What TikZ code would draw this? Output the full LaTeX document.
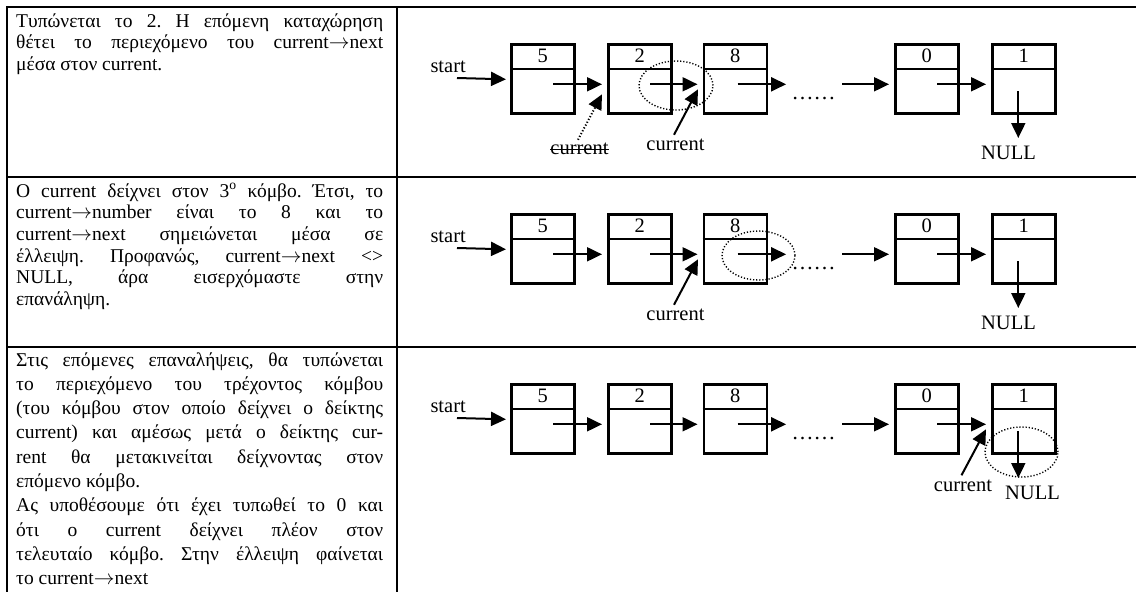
\documentclass[tikz,border=0pt]{standalone}
\usepackage{fontspec}
\setmainfont{Liberation Serif}
\usetikzlibrary{arrows.meta,shapes.geometric}
\tikzset{
  tbl/.style={line width=2.6pt},
  listbox/.style={draw, line width=2.6pt, minimum width=63pt, minimum height=69pt, inner sep=0pt, anchor=north west},
  ptr/.style={line width=2pt, -{Triangle[length=15pt,width=14pt]}},
  dptr/.style={ptr, dash pattern=on 1.2pt off 2pt},
  lbl/.style={font=\fontsize{20.5}{24}\selectfont, inner sep=0pt},
  oval/.style={draw, ellipse, line width=1.4pt, dash pattern=on 1.2pt off 1.9pt, inner sep=0pt},
  body/.style={inner sep=0pt, anchor=base west}
}
\newcommand\arr{\(\rightarrow\)}
\newcommand\jl[1]{\makebox[367pt][s]{#1}\par}
\newcommand\bodytext[2]{\parbox[t]{367pt}{\fontsize{19.5}{#1}\selectfont\frenchspacing\parindent=0pt #2}}
\newcommand\listrow[2]{%
\begin{scope}[shift={(0,#1)}]
  \node[listbox] (#2a) at (510,43) {};
  \node[listbox] (#2b) at (607,43) {};
  \node[listbox] (#2c) at (702.5,43) {};
  \node[listbox] (#2d) at (894,43) {};
  \node[listbox] (#2e) at (991,43) {};
  \foreach \n/\v in {a/5,b/2,c/8,d/0,e/1}{
    \draw[line width=2.6pt] ([yshift=-26pt]#2\n.north west) -- ([yshift=-26pt]#2\n.north east);
    \node[lbl] at ([yshift=-13pt]#2\n.north) {\v};
  }
  \node[lbl, anchor=base east] (#2st) at (466,72) {start};
  \draw[ptr] ([xshift=-9pt,yshift=-6pt]#2st.base east) -- ([xshift=-4pt,yshift=-0.5pt]#2a.west);
  \draw[ptr] ([xshift=43pt,yshift=-5.5pt]#2a.west) -- ([xshift=-5pt,yshift=-5.5pt]#2b.west);
  \draw[ptr] ([xshift=43pt,yshift=-5.5pt]#2b.west) -- ([xshift=-5pt,yshift=-5.5pt]#2c.west);
  \draw[ptr] ([xshift=35pt,yshift=-5.5pt]#2c.west) -- ([xshift=18pt,yshift=-5.5pt]#2c.east);
  \node[inner sep=0pt, anchor=base, font=\fontsize{22}{24}\selectfont] (#2dots) at (813.5,99) {……};
  \draw[ptr] ([xshift=-52pt,yshift=-5.5pt]#2d.west) -- ([xshift=-5pt,yshift=-5.5pt]#2d.west);
  \draw[ptr] ([xshift=43pt,yshift=-5.5pt]#2d.west) -- ([xshift=-5pt,yshift=-5.5pt]#2e.west);
  \coordinate (#2nt) at ([xshift=-5.5pt,yshift=-95pt]#2e.north);
  \draw[ptr] ([xshift=-5.5pt,yshift=-48pt]#2e.north) -- (#2nt);
\end{scope}}
\begin{document}
\begin{tikzpicture}[x=1pt,y=-1pt]
\useasboundingbox (0,0) rectangle (1136,592);
% table
\draw[tbl] (6,7) -- (1136,7);
\draw[tbl] (6,177) -- (1136,177);
\draw[tbl] (6,347) -- (1136,347);
\draw[tbl] (7,6) -- (7,592);
\draw[tbl] (397,6) -- (397,592);
% texts
\node[body] (t1) at (16,27) {\bodytext{21.7}{%
\jl{Τυπώνεται το 2. Η επόμενη καταχώρηση}
\jl{θέτει το περιεχόμενο του current\arr next}
μέσα στον current.}};
\node[body] (t2) at (16,197) {\bodytext{21.7}{%
\jl{Ο current δείχνει στον 3\textsuperscript{ο} κόμβο. Έτσι, το}
\jl{current\arr number είναι το 8 και το}
\jl{current\arr next σημειώνεται μέσα σε}
\jl{έλλειψη. Προφανώς, current\arr next <>}
\jl{NULL, άρα εισερχόμαστε στην}
επανάληψη.}};
\node[body] (t3) at (16,366) {\bodytext{24.3}{%
\jl{Στις επόμενες επαναλήψεις, θα τυπώνεται}
\jl{το περιεχόμενο του τρέχοντος κόμβου}
\jl{(του κόμβου στον οποίο δείχνει ο δείκτης}
\jl{current) και αμέσως μετά ο δείκτης cur-}
\jl{rent θα μετακινείται δείχνοντας στον}
επόμενο κόμβο.\par
\jl{Ας υποθέσουμε ότι έχει τυπωθεί το 0 και}
\jl{ότι ο current δείχνει πλέον στον}
\jl{τελευταίο κόμβο. Στην έλλειψη φαίνεται}
το current\arr next}};
% lists
\listrow{0}{p}
\listrow{170}{q}
\listrow{340}{r}
% row 1 extras
\node[oval, minimum width=74pt, minimum height=49pt] (pov) at (676,85.5) {};
\node[lbl, anchor=base] (pcur) at (675.5,150.5) {current};
\draw[ptr] ([xshift=-1.5pt,yshift=4pt]pcur.north) -- ([xshift=-4.5pt,yshift=-10.5pt]pc.west);
\node[lbl, anchor=base] (pold) at (579.5,154) {current};
\draw[line width=1pt] ([yshift=5pt]pold.base west) -- ([yshift=5pt]pold.base east);
\draw[dptr] ([xshift=-1.5pt,yshift=2.5pt]pold.north) -- ([xshift=-5pt,yshift=-15.5pt]pb.west);
\node[lbl, anchor=base] (pnull) at (1008.5,159) {NULL};
% row 2 extras
\node[oval, minimum width=73pt, minimum height=49pt] (qov) at (758.5,255.5) {};
\node[lbl, anchor=base] (qcur) at (675.5,320.5) {current};
\draw[ptr] ([xshift=-1.5pt,yshift=4pt]qcur.north) -- ([xshift=-4.5pt,yshift=-10.5pt]qc.west);
\node[lbl, anchor=base] (qnull) at (1008.5,329) {NULL};
% row 3 extras
\node[oval, minimum width=73pt, minimum height=50pt] (rov) at (1021.5,452) {};
\node[lbl, anchor=base] (rcur) at (963,491) {current};
\draw[ptr] ([xshift=-1.5pt,yshift=4pt]rcur.north) -- ([xshift=-5pt,yshift=-10.5pt]re.west);
\node[lbl, anchor=base] (rnull) at (1032.5,499) {NULL};
\end{tikzpicture}
\end{document}
